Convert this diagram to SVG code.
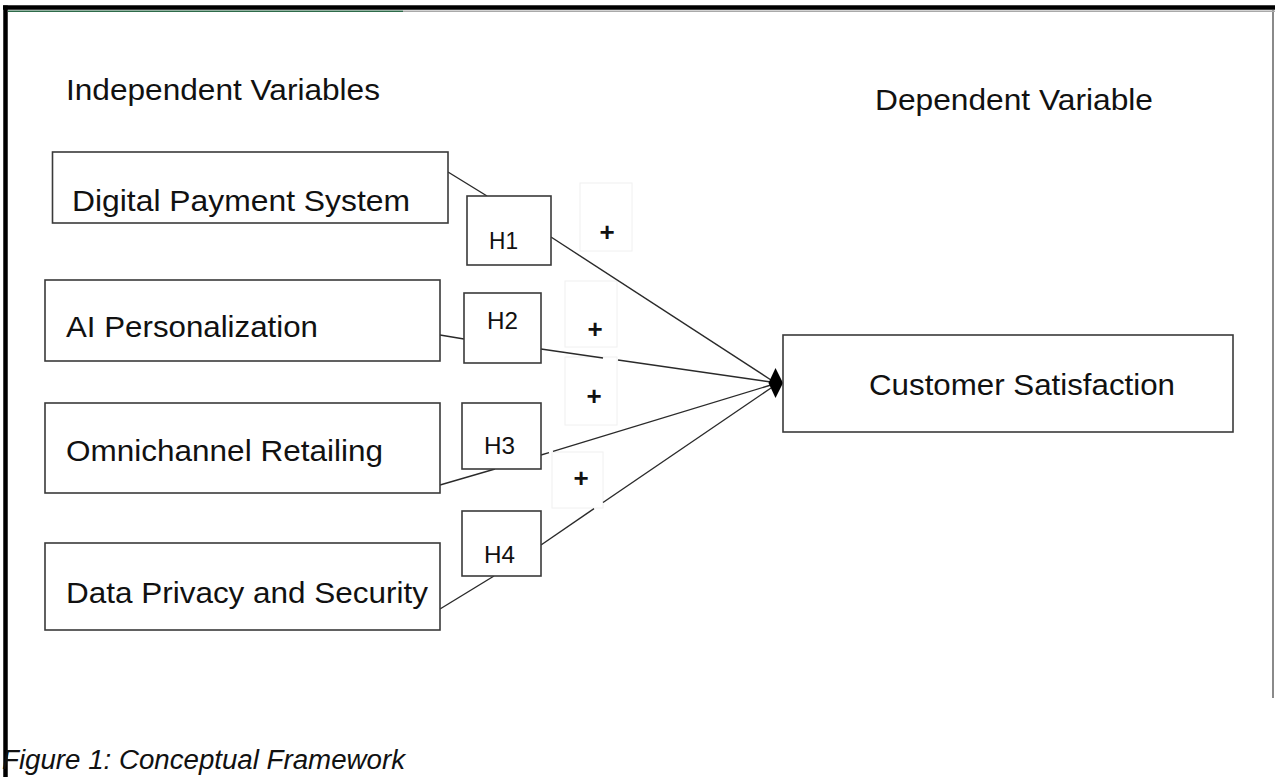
<svg xmlns="http://www.w3.org/2000/svg" width="1275" height="777" viewBox="0 0 1275 777">
<style>
.t{font-family:"Liberation Sans",Arial,sans-serif;fill:#111}
.big{font-size:30px}
.h{font-size:24px}
.pl{font-size:26px;font-weight:bold}
.box{fill:#fff;stroke:#3a3a3a;stroke-width:1.6}
.pbox{fill:none;stroke:#f0f0f0;stroke-width:1}
.ln{stroke:#2a2a2a;stroke-width:1.4;fill:none}
</style>
<rect x="0" y="0" width="1275" height="777" fill="#fff"/>
<g id="frame">
<line x1="1273" y1="10" x2="1273" y2="698" stroke="#8a8a8a" stroke-width="2"/>
<line x1="8" y1="11.3" x2="403" y2="11.3" stroke="#2e6b4a" stroke-width="1.6"/>
<line x1="403" y1="11.3" x2="1275" y2="11.3" stroke="#aaaaaa" stroke-width="1.4"/>
<line x1="3" y1="7.5" x2="1275" y2="7.5" stroke="#000" stroke-width="4.5"/>
<line x1="5.5" y1="5.5" x2="5.5" y2="777" stroke="#000" stroke-width="4.5"/>
</g>
<g id="labels">
<text class="t big" x="66" y="100" textLength="314" lengthAdjust="spacingAndGlyphs">Independent Variables</text>
<text class="t big" x="875" y="110" textLength="278" lengthAdjust="spacingAndGlyphs">Dependent Variable</text>
<text class="t" x="2" y="769" font-size="27" font-style="italic" textLength="403" lengthAdjust="spacingAndGlyphs">Figure 1: Conceptual Framework</text>
</g>
<g id="plus-boxes">
<rect class="pbox" x="580" y="183" width="52" height="68"/>
<rect class="pbox" x="565" y="281" width="52" height="66"/>
<rect class="pbox" x="565" y="357" width="52" height="68"/>
<rect class="pbox" x="552" y="452" width="51" height="56"/>
<text class="t pl" x="607" y="241" text-anchor="middle">+</text>
<text class="t pl" x="595" y="338" text-anchor="middle">+</text>
<text class="t pl" x="594" y="405" text-anchor="middle">+</text>
<text class="t pl" x="581" y="487" text-anchor="middle">+</text>
</g>
<g id="connectors">
<line class="ln" x1="448" y1="172" x2="487" y2="196"/>
<line class="ln" x1="551" y1="237" x2="771" y2="380"/>
<line class="ln" x1="440" y1="335" x2="464" y2="339"/>
<line class="ln" x1="541" y1="349" x2="603" y2="358"/>
<line class="ln" x1="618" y1="360" x2="771" y2="382"/>
<line class="ln" x1="440" y1="485" x2="495" y2="469"/>
<line class="ln" x1="541" y1="455" x2="549" y2="452.6"/>
<line class="ln" x1="553" y1="451.4" x2="771" y2="385"/>
<line class="ln" x1="440" y1="609" x2="494" y2="576"/>
<line class="ln" x1="541" y1="545" x2="594" y2="508.7"/>
<line class="ln" x1="603" y1="502.5" x2="771" y2="388"/>
<path d="M783 383 L775.5 368 L768.5 383 L775.5 398 Z" fill="#000"/>
</g>
<g id="n-dps">
<rect class="box" x="52.5" y="152" width="395.5" height="71"/>
<text class="t big" x="72" y="211" textLength="338" lengthAdjust="spacingAndGlyphs">Digital Payment System</text>
</g>
<g id="n-ai">
<rect class="box" x="45" y="280" width="395" height="81"/>
<text class="t big" x="66" y="337" textLength="252" lengthAdjust="spacingAndGlyphs">AI Personalization</text>
</g>
<g id="n-omni">
<rect class="box" x="45" y="403" width="395" height="90"/>
<text class="t big" x="66" y="461" textLength="317" lengthAdjust="spacingAndGlyphs">Omnichannel Retailing</text>
</g>
<g id="n-data">
<rect class="box" x="45" y="543" width="395" height="87"/>
<text class="t big" x="66" y="603" textLength="362" lengthAdjust="spacingAndGlyphs">Data Privacy and Security</text>
</g>
<g id="h1">
<rect class="box" x="467" y="196" width="84" height="69"/>
<text class="t h" x="489" y="249" textLength="29" lengthAdjust="spacingAndGlyphs">H1</text>
</g>
<g id="h2">
<rect class="box" x="464" y="293" width="77" height="70"/>
<text class="t h" x="487" y="329" textLength="31" lengthAdjust="spacingAndGlyphs">H2</text>
</g>
<g id="h3">
<rect class="box" x="462" y="403" width="79" height="66"/>
<text class="t h" x="484" y="454" textLength="31" lengthAdjust="spacingAndGlyphs">H3</text>
</g>
<g id="h4">
<rect class="box" x="462" y="511" width="79" height="65"/>
<text class="t h" x="484" y="563" textLength="31" lengthAdjust="spacingAndGlyphs">H4</text>
</g>
<g id="n-cs">
<rect class="box" x="783" y="335" width="450" height="97"/>
<text class="t big" x="869" y="395" textLength="306" lengthAdjust="spacingAndGlyphs">Customer Satisfaction</text>
</g>
</svg>
